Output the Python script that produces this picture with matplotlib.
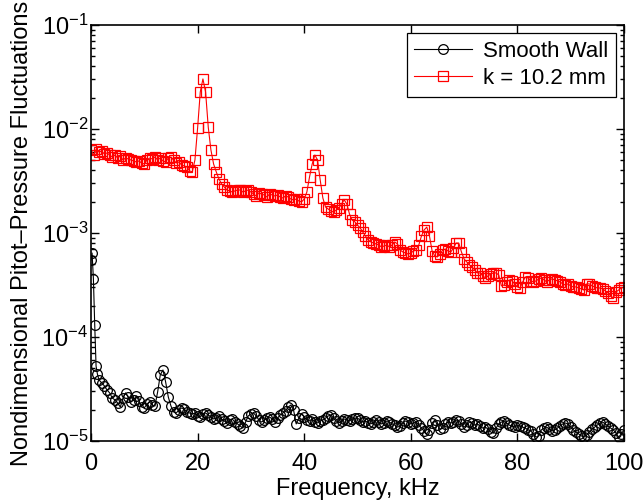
import numpy as np
import matplotlib
matplotlib.use("Agg")
from matplotlib import pyplot as plt
from matplotlib.ticker import LogLocator, NullFormatter, MultipleLocator

plt.rcParams["font.family"] = ["Liberation Sans", "DejaVu Sans"]
plt.rcParams["mathtext.fontset"] = "custom"
plt.rcParams["mathtext.rm"] = "Liberation Sans"
plt.rcParams["mathtext.it"] = "Liberation Sans"

# k = 10.2 mm roughness, 0.5 kHz grid from 0 to 100 kHz
rough_freq = np.arange(0, 100.5, 0.5)
rough_vals = [
    6.28e-3, 5.62e-3, 6.42e-3, 6.01e-3, 6.15e-3, 5.75e-3, 5.88e-3, 5.62e-3, 5.38e-3, 5.62e-3,
    5.26e-3, 5.50e-3, 5.04e-3, 5.26e-3, 5.15e-3, 5.04e-3, 4.93e-3, 4.82e-3, 4.93e-3, 4.71e-3,
    4.61e-3, 5.04e-3, 5.26e-3, 5.15e-3, 5.38e-3, 5.04e-3, 5.26e-3, 4.93e-3, 4.82e-3, 5.26e-3,
    5.38e-3, 5.04e-3, 4.71e-3, 4.82e-3, 4.51e-3, 4.41e-3, 4.32e-3, 3.95e-3, 3.87e-3, 5.04e-3,
    1.02e-2, 2.27e-2, 3.03e-2, 2.27e-2, 1.04e-2, 6.28e-3, 4.61e-3, 3.87e-3, 3.31e-3, 2.96e-3,
    2.77e-3, 2.59e-3, 2.54e-3, 2.48e-3, 2.54e-3, 2.59e-3, 2.59e-3, 2.48e-3, 2.54e-3, 2.59e-3,
    2.48e-3, 2.37e-3, 2.27e-3, 2.43e-3, 2.37e-3, 2.32e-3, 2.22e-3, 2.37e-3, 2.32e-3, 2.27e-3,
    2.32e-3, 2.22e-3, 2.17e-3, 2.27e-3, 2.22e-3, 2.12e-3, 2.08e-3, 2.12e-3, 2.03e-3, 1.99e-3,
    2.12e-3, 2.48e-3, 3.46e-3, 4.61e-3, 5.62e-3, 5.04e-3, 3.24e-3, 2.17e-3, 1.78e-3, 1.70e-3,
    1.63e-3, 1.59e-3, 1.66e-3, 1.74e-3, 1.90e-3, 2.08e-3, 1.90e-3, 1.52e-3, 1.33e-3, 1.28e-3,
    1.19e-3, 1.12e-3, 1.02e-3, 9.36e-4, 8.57e-4, 8.20e-4, 8.01e-4, 7.84e-4, 7.67e-4, 7.34e-4,
    7.50e-4, 7.67e-4, 7.34e-4, 7.67e-4, 8.20e-4, 7.84e-4, 6.86e-4, 6.57e-4, 6.42e-4, 6.28e-4,
    6.42e-4, 6.71e-4, 6.86e-4, 7.67e-4, 9.36e-4, 1.07e-3, 1.14e-3, 9.36e-4, 6.71e-4, 6.01e-4,
    5.88e-4, 6.28e-4, 6.86e-4, 7.02e-4, 6.71e-4, 6.57e-4, 7.17e-4, 8.01e-4, 8.01e-4, 6.57e-4,
    5.62e-4, 5.26e-4, 4.93e-4, 4.71e-4, 4.41e-4, 4.13e-4, 4.13e-4, 3.87e-4, 3.70e-4, 3.87e-4,
    4.04e-4, 4.13e-4, 4.13e-4, 3.95e-4, 3.10e-4, 3.16e-4, 3.39e-4, 3.54e-4, 3.46e-4, 3.24e-4,
    3.03e-4, 2.96e-4, 3.39e-4, 3.78e-4, 3.70e-4, 3.46e-4, 3.39e-4, 3.46e-4, 3.62e-4, 3.70e-4,
    3.54e-4, 3.39e-4, 3.54e-4, 3.62e-4, 3.54e-4, 3.46e-4, 3.39e-4, 3.24e-4, 3.16e-4, 3.24e-4,
    3.10e-4, 3.03e-4, 3.03e-4, 2.96e-4, 2.90e-4, 2.83e-4, 3.24e-4, 3.24e-4, 3.10e-4, 3.03e-4,
    2.96e-4, 2.96e-4, 2.90e-4, 2.77e-4, 2.65e-4, 2.48e-4, 2.37e-4, 2.71e-4, 2.83e-4, 2.96e-4,
    3.03e-4,
]

# smooth wall: finer points near 0 kHz, then 0.5 kHz grid
smooth_freq = np.concatenate([[0.0, 0.2, 0.45, 0.7, 0.95, 1.2, 1.5], np.arange(2, 100.5, 0.5)])
smooth_vals = [
    5.50e-4, 6.42e-4, 3.62e-4, 1.30e-4, 5.26e-5, 4.41e-5, 3.87e-5,
    3.62e-5, 3.39e-5, 3.10e-5, 2.90e-5, 2.59e-5, 2.48e-5, 2.32e-5, 2.12e-5, 2.59e-5, 2.90e-5,
    2.65e-5, 2.37e-5, 2.48e-5, 2.71e-5, 2.43e-5, 2.12e-5, 2.08e-5, 2.27e-5, 2.37e-5, 2.22e-5,
    2.17e-5, 2.96e-5, 4.32e-5, 4.82e-5, 3.70e-5, 2.65e-5, 2.17e-5, 1.90e-5, 1.86e-5, 1.99e-5,
    2.08e-5, 2.03e-5, 1.90e-5, 1.86e-5, 1.82e-5, 1.86e-5, 1.74e-5, 1.70e-5, 1.82e-5, 1.86e-5,
    1.78e-5, 1.70e-5, 1.63e-5, 1.66e-5, 1.74e-5, 1.63e-5, 1.56e-5, 1.49e-5, 1.59e-5, 1.63e-5,
    1.52e-5, 1.46e-5, 1.39e-5, 1.33e-5, 1.52e-5, 1.74e-5, 1.82e-5, 1.86e-5, 1.74e-5, 1.59e-5,
    1.52e-5, 1.59e-5, 1.66e-5, 1.70e-5, 1.63e-5, 1.52e-5, 1.66e-5, 1.78e-5, 1.86e-5, 1.94e-5,
    2.12e-5, 2.22e-5, 1.99e-5, 1.46e-5, 1.66e-5, 1.82e-5, 1.70e-5, 1.59e-5, 1.56e-5, 1.63e-5,
    1.52e-5, 1.49e-5, 1.56e-5, 1.59e-5, 1.66e-5, 1.74e-5, 1.78e-5, 1.66e-5, 1.56e-5, 1.49e-5,
    1.56e-5, 1.63e-5, 1.59e-5, 1.56e-5, 1.63e-5, 1.66e-5, 1.66e-5, 1.59e-5, 1.52e-5, 1.56e-5,
    1.49e-5, 1.46e-5, 1.52e-5, 1.59e-5, 1.52e-5, 1.46e-5, 1.49e-5, 1.56e-5, 1.52e-5, 1.46e-5,
    1.42e-5, 1.36e-5, 1.39e-5, 1.49e-5, 1.56e-5, 1.52e-5, 1.46e-5, 1.49e-5, 1.52e-5, 1.42e-5,
    1.33e-5, 1.25e-5, 1.17e-5, 1.28e-5, 1.49e-5, 1.59e-5, 1.42e-5, 1.30e-5, 1.33e-5, 1.46e-5,
    1.52e-5, 1.49e-5, 1.52e-5, 1.59e-5, 1.56e-5, 1.46e-5, 1.36e-5, 1.42e-5, 1.52e-5, 1.49e-5,
    1.42e-5, 1.46e-5, 1.39e-5, 1.33e-5, 1.36e-5, 1.30e-5, 1.22e-5, 1.19e-5, 1.33e-5, 1.46e-5,
    1.52e-5, 1.56e-5, 1.49e-5, 1.42e-5, 1.39e-5, 1.36e-5, 1.42e-5, 1.39e-5, 1.36e-5, 1.33e-5,
    1.28e-5, 1.25e-5, 1.17e-5, 1.09e-5, 1.12e-5, 1.28e-5, 1.33e-5, 1.36e-5, 1.30e-5, 1.25e-5,
    1.28e-5, 1.33e-5, 1.39e-5, 1.46e-5, 1.49e-5, 1.46e-5, 1.36e-5, 1.28e-5, 1.22e-5, 1.17e-5,
    1.12e-5, 1.09e-5, 1.14e-5, 1.22e-5, 1.30e-5, 1.36e-5, 1.42e-5, 1.49e-5, 1.52e-5, 1.46e-5,
    1.39e-5, 1.33e-5, 1.28e-5, 1.19e-5, 1.09e-5, 1.17e-5, 1.28e-5,
]

fig = plt.figure(figsize=(6.44, 5.03), dpi=100)
ax = fig.add_axes([91 / 644, 1 - 441 / 503, 533 / 644, 416 / 503])

ax.semilogy(smooth_freq, smooth_vals, "-o", color="black", mfc="none", ms=7,
            mew=0.9, lw=0.8, label="Smooth Wall")
ax.semilogy(rough_freq, rough_vals, "-s", color="red", mfc="none", ms=6.5,
            mew=0.9, lw=0.8, label="k = 10.2 mm")

ax.set_xlim(0, 100)
ax.set_ylim(1e-5, 1e-1)
ax.xaxis.set_major_locator(MultipleLocator(20))
ax.yaxis.set_major_locator(LogLocator(base=10, numticks=10))
ax.yaxis.set_minor_locator(LogLocator(base=10, subs=np.arange(2, 10), numticks=10))
ax.yaxis.set_minor_formatter(NullFormatter())
ax.tick_params(which="both", direction="in", top=True, right=True, labelsize=17, width=1)
ax.tick_params(which="major", length=6)
ax.tick_params(which="minor", length=3)
ax.tick_params(axis="x", pad=9)
ax.tick_params(axis="y", pad=2)
for s in ax.spines.values():
    s.set_linewidth(1.2)

ax.set_xlabel("Frequency, kHz", fontsize=17, labelpad=2)
ax.set_ylabel("Nondimensional Pitot\u2013Pressure Fluctuations", fontsize=17, labelpad=6)

leg = ax.legend(loc="upper right", fontsize=16, fancybox=False, edgecolor="black",
                framealpha=1, borderaxespad=0.35, handlelength=2.6, handletextpad=0.5,
                borderpad=0.35, labelspacing=0.3)
leg.get_frame().set_linewidth(0.9)

fig.savefig("out.png", dpi=100)
